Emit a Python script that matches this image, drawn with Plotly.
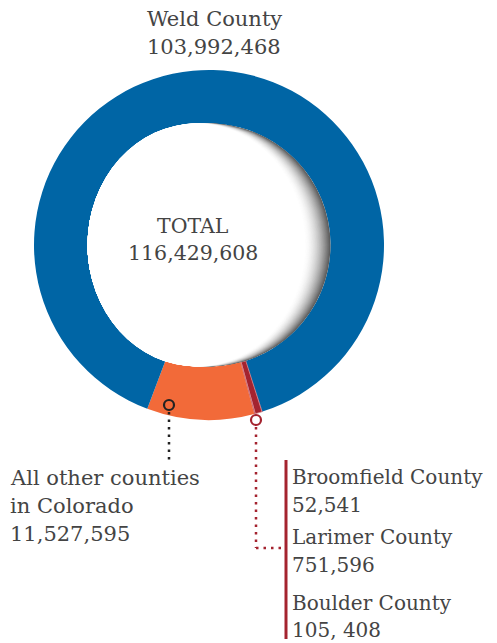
import plotly.graph_objects as go

# ---- data ----
labels = ["Broomfield County", "Larimer County", "Boulder County",
          "All other counties in Colorado", "Weld County"]
values = [52541, 751596, 105408, 11527595, 103992468]
colors = ["#a4232f", "#a4232f", "#a4232f", "#f26a39", "#0065a5"]
total_label = "116,429,608"

# page has an 8px body margin; work in window pixels and convert
OFF = 8
WW, WH = 497, 643
W, H = WW - OFF, WH - OFF
def px(x): return (x - OFF) / W
def py(y): return (H - (y - OFF)) / H

# pie geometry (window pixels)
CX, CY, R = 209, 245, 175
HOLE = 0.694
FONT = "DejaVu Serif"
TXT = "#444444"

fig = go.Figure(go.Pie(
    labels=labels, values=values, sort=False, direction="clockwise",
    rotation=162.2, hole=HOLE,
    marker=dict(colors=colors,
                line=dict(color=["#d98a92", "#d98a92", "#d98a92", "rgba(0,0,0,0)", "rgba(0,0,0,0)"],
                          width=[0.8, 0.8, 0.8, 0, 0])),
    textinfo="none", hoverinfo="label+value", showlegend=False,
    domain=dict(x=[px(CX - R), px(CX + R)], y=[py(CY + R), py(CY - R)]),
))

shapes = []
# inner shadow of the hole (right side)
Rh = R * HOLE
N = 40
kmax = 13.0
for i in range(N):
    t = i / (N - 1)
    k = kmax * t
    g = int(round(255 - 165 * (1 - t) ** 1.8))
    shapes.append(dict(type="circle", xref="paper", yref="paper",
                       x0=px(CX - Rh), x1=px(CX + Rh - 2 * k),
                       y0=py(CY + Rh), y1=py(CY - Rh),
                       fillcolor=f"rgb({g},{g},{g})", line=dict(width=0), layer="above"))

# leader: orange slice
shapes.append(dict(type="line", xref="paper", yref="paper",
                   x0=px(169), x1=px(169), y0=py(412), y1=py(462),
                   line=dict(color="#222", width=2.5, dash="2.5px,5px")))
shapes.append(dict(type="circle", xref="paper", yref="paper",
                   x0=px(164), x1=px(174), y0=py(410), y1=py(400),
                   fillcolor="rgba(0,0,0,0)", line=dict(color="#222", width=2.2)))
# leader: red slices
shapes.append(dict(type="line", xref="paper", yref="paper",
                   x0=px(256), x1=px(256), y0=py(427), y1=py(548),
                   line=dict(color="#a4232f", width=2.5, dash="2.5px,5px")))
shapes.append(dict(type="line", xref="paper", yref="paper",
                   x0=px(256), x1=px(283), y0=py(548), y1=py(548),
                   line=dict(color="#a4232f", width=2.5, dash="2.5px,5px")))
shapes.append(dict(type="circle", xref="paper", yref="paper",
                   x0=px(251), x1=px(261), y0=py(425), y1=py(415),
                   fillcolor="white", line=dict(color="#a4232f", width=2.2)))
shapes.append(dict(type="line", xref="paper", yref="paper",
                   x0=px(286), x1=px(286), y0=py(460), y1=py(639),
                   line=dict(color="#a4232f", width=3)))

def fmt(v):
    return f"{v:,}"

annots = []
def add(text, x, y, anchor="left", size=21):
    annots.append(dict(text=text, x=px(x), y=py(y), xref="paper", yref="paper",
                       xanchor=anchor, yanchor="middle", showarrow=False,
                       font=dict(family=FONT, size=size, color=TXT)))

add(labels[4], 145, 19)
add(fmt(values[4]), 145, 47)
add("TOTAL", 193, 226, "center", 20.5)
add(total_label, 193, 253, "center", 20.5)
add("All other counties", 8, 478)
add("in Colorado", 8, 506)
add(fmt(values[3]), 8, 534)
RS = 20
add(labels[0], 290, 477, size=RS)
add(fmt(values[0]), 290, 505, size=RS)
add(labels[1], 290, 537, size=RS)
add(fmt(values[1]), 290, 565, size=RS)
add(labels[2], 290, 603, size=RS)
add(fmt(values[2]).replace(",", ", "), 290, 630, size=RS)

fig.update_layout(width=W, height=H, margin=dict(l=0, r=0, t=0, b=0),
                  paper_bgcolor="white", plot_bgcolor="white",
                  shapes=shapes, annotations=annots)
fig.write_html("out.html")
